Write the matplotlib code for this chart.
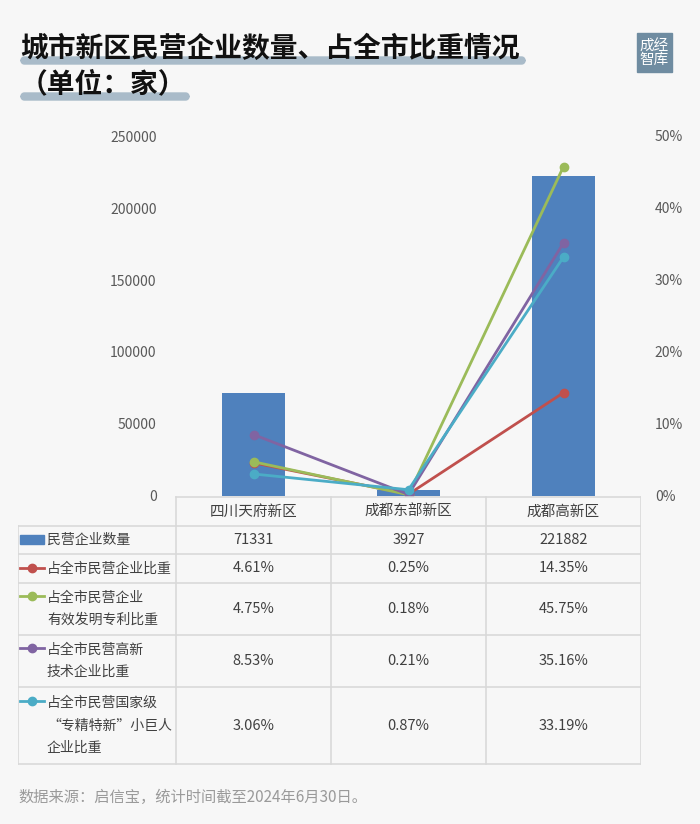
import matplotlib.pyplot as plt
from matplotlib.patches import FancyBboxPatch, Rectangle
import numpy as np

plt.rcParams['font.family'] = ['Noto Sans CJK SC', 'DejaVu Sans']

# data
districts = ['四川天府新区', '成都东部新区', '成都高新区']
counts = [71331, 3927, 221882]
share_firms = [4.61, 0.25, 14.35]
share_patents = [4.75, 0.18, 45.75]
share_hitech = [8.53, 0.21, 35.16]
share_giants = [3.06, 0.87, 33.19]

row_labels = ['民营企业数量', '占全市民营企业比重', '占全市民营企业\n有效发明专利比重',
              '占全市民营高新\n技术企业比重', '占全市民营国家级\n“专精特新”小巨人\n企业比重']
line_colors = ['#C0504D', '#9BBB59', '#8064A2', '#4BACC6']
bar_color = '#4F81BD'
bg = '#F7F7F7'

W, H = 700, 824
fig = plt.figure(figsize=(7, 8.24), dpi=100, facecolor=bg)

def fx(px):
    return px / W

def fy(py):
    return 1 - py / H

# title with highlight strips
fig.patches.append(FancyBboxPatch((fx(21), fy(64)), fx(504), 7 / H, boxstyle='round,pad=0,rounding_size=0.005',
                                  transform=fig.transFigure, color='#A9BBC9', zorder=0))
fig.patches.append(FancyBboxPatch((fx(21), fy(100)), fx(168), 7 / H, boxstyle='round,pad=0,rounding_size=0.005',
                                  transform=fig.transFigure, color='#A9BBC9', zorder=0))
fig.text(fx(20), fy(49), '城市新区民营企业数量、占全市比重情况', fontsize=20, fontweight='bold',
         va='center', ha='left', color='#111111')
fig.text(fx(20), fy(84), '（单位：家）', fontsize=20, fontweight='bold',
         va='center', ha='left', color='#111111')

# logo
fig.patches.append(Rectangle((fx(637), fy(72)), fx(35), 39 / H, transform=fig.transFigure,
                             color='#6F8CA1', zorder=1))
fig.text(fx(654.5), fy(52.5), '成经\n智库', fontsize=10.5, color='white', ha='center', va='center',
         linespacing=1.0, zorder=2)

# chart
ax = fig.add_axes([fx(176), fy(496), fx(641 - 176), (496 - 136) / H])
ax.set_facecolor('none')
x = np.arange(len(districts))
ax.bar(x, counts, width=0.41, color=bar_color, zorder=1)
ax.set_xlim(-0.5, 2.5)
ax.set_ylim(0, 250000)
ax.set_yticks(np.arange(0, 250001, 50000))
ax.tick_params(axis='y', length=0, labelsize=10, labelcolor='#595959', pad=14)
ax.set_xticks([])
for s in ax.spines.values():
    s.set_visible(False)

ax2 = ax.twinx()
for vals, c in zip([share_firms, share_patents, share_hitech, share_giants], line_colors):
    ax2.plot(x, vals, color=c, lw=2, marker='o', markersize=6, zorder=3)
ax2.set_ylim(0, 50)
ax2.set_yticks(np.arange(0, 51, 10))
ax2.set_yticklabels([f'{v}%' for v in range(0, 51, 10)])
ax2.tick_params(axis='y', length=0, labelsize=10, labelcolor='#595959', pad=10)
for s in ax2.spines.values():
    s.set_visible(False)

# table
tb = fig.add_axes([fx(18), fy(765), fx(641 - 18), (765 - 496) / H])
tb.set_xlim(18, 641)
tb.set_ylim(765, 496)
tb.axis('off')
col_edges = [18, 176, 331, 486, 641]
row_edges = [497, 526, 554, 583, 635, 687, 764]
grid_c = '#D9D9D9'
for yy in row_edges[1:]:
    tb.plot([18, 641], [yy, yy], color=grid_c, lw=1.2)
tb.plot([176, 641], [row_edges[0], row_edges[0]], color=grid_c, lw=1.2)
tb.plot([18, 18], [row_edges[1], row_edges[-1]], color=grid_c, lw=1.2)
for xx in col_edges[1:]:
    tb.plot([xx, xx], [row_edges[0], row_edges[-1]], color=grid_c, lw=1.2)

col_mid = [(col_edges[i + 1] + col_edges[i + 2]) / 2 for i in range(3)]
for cx, name in zip(col_mid, districts):
    tb.text(cx, (row_edges[0] + row_edges[1]) / 2, name, ha='center', va='center',
            fontsize=10.5, color='#404040')

table_vals = [[str(v) for v in counts]] + [[f'{v:.2f}%' for v in s]
                                           for s in [share_firms, share_patents, share_hitech, share_giants]]
for i, (lab, vals) in enumerate(zip(row_labels, table_vals)):
    top, bot = row_edges[i + 1], row_edges[i + 2]
    mid = (top + bot) / 2
    nlines = lab.count('\n') + 1
    first_y = mid - (nlines - 1) * 12
    tb.text(47, mid, lab, ha='left', va='center', fontsize=10, color='#404040', linespacing=1.75)
    if i == 0:
        tb.add_patch(Rectangle((20, first_y - 5), 24, 9, color=bar_color))
    else:
        c = line_colors[i - 1]
        tb.plot([20, 44], [first_y - 1, first_y - 1], color=c, lw=2)
        tb.plot([32], [first_y - 1], marker='o', color=c, markersize=6)
    for cx, v in zip(col_mid, vals):
        tb.text(cx, mid, v, ha='center', va='center', fontsize=10.5, color='#404040')

fig.text(fx(18), fy(797), '数据来源：启信宝，统计时间截至2024年6月30日。', fontsize=11,
         color='#9A9A9A', ha='left', va='center')

fig.savefig('out.png', dpi=100, facecolor=bg)
